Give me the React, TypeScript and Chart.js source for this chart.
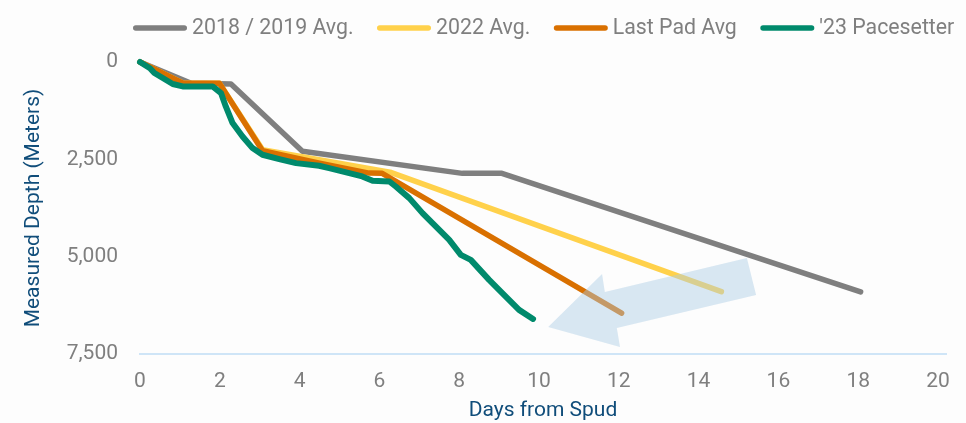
import React, { useEffect, useRef } from "react";
import { Chart, registerables } from "chart.js";

Chart.register(...registerables);

const seriesLabels = ["2018 / 2019 Avg.", "2022 Avg.", "Last Pad Avg", "'23 Pacesetter"];
const seriesColors = ["#7f7f7f", "#ffd14b", "#d97000", "#008a6c"];

const grayDays = [0, 1.28, 2.28, 4.07, 8.08, 9.07, 18.06];
const grayDepths = [0, 545, 566, 2290, 2860, 2860, 5905];

const yellowDays = [0, 1.07, 1.99, 3.07, 6.3, 14.57];
const yellowDepths = [0, 540, 545, 2250, 2840, 5900];

const orangeDays = [0, 1.07, 1.99, 3.07, 4.5, 5.74, 6.07, 12.07];
const orangeDepths = [0, 540, 545, 2280, 2600, 2853, 2860, 6450];

const greenDays = [0, 0.25, 0.36, 0.57, 0.82, 1.07, 1.82, 2.03, 2.15, 2.32, 2.57, 2.82, 3.07, 3.49, 3.91, 4.49, 4.74, 5.57, 5.83, 6.25, 6.41, 6.75, 7.08, 7.33, 7.75, 8.04, 8.29, 8.75, 9.08, 9.5, 9.85];
const greenDepths = [0, 160, 283, 412, 566, 627, 627, 797, 1141, 1568, 1912, 2211, 2383, 2494, 2597, 2666, 2725, 2940, 3051, 3069, 3198, 3496, 3882, 4139, 4568, 4954, 5082, 5596, 5938, 6367, 6600];

const seriesWidths = [5.5, 5.5, 5.5, 6];

const xTicks = [0, 2, 4, 6, 8, 10, 12, 14, 16, 18, 20];
const yTicks = [0, 2500, 5000, 7500];

// decorative arrow annotation (data coordinates)
const arrowDays = [15.21, 11.65, 11.58, 10.23, 12.03, 11.95, 15.44];
const arrowDepths = [5035, 5908, 5446, 6807, 7321, 6833, 5985];

const FONT = "Roboto, 'Noto Sans', sans-serif";

const toPoints = (xs: number[], ys: number[]) => xs.map((x, i) => ({ x, y: ys[i] }));

const bgPlugin = {
  id: "bg",
  beforeDraw(chart: any) {
    const ctx = chart.ctx;
    ctx.save();
    ctx.fillStyle = "#fdfdfd";
    ctx.fillRect(0, 0, chart.width, chart.height);
    ctx.restore();
  },
};

const arrowPlugin = {
  id: "arrow",
  afterDatasetsDraw(chart: any) {
    const ctx = chart.ctx;
    const xs = chart.scales.x;
    const ys = chart.scales.y;
    ctx.save();
    ctx.beginPath();
    arrowDays.forEach((d, i) => {
      const px = xs.getPixelForValue(d);
      const py = ys.getPixelForValue(arrowDepths[i]);
      if (i === 0) ctx.moveTo(px, py);
      else ctx.lineTo(px, py);
    });
    ctx.closePath();
    ctx.fillStyle = "rgba(170, 205, 228, 0.45)";
    ctx.fill();
    ctx.restore();
  },
};

const legendPlugin = {
  id: "customLegend",
  afterDraw(chart: any) {
    const ctx = chart.ctx;
    ctx.save();
    ctx.font = `21.3px ${FONT}`;
    ctx.textBaseline = "middle";
    ctx.textAlign = "left";
    let x = 133;
    const y = 28;
    chart.data.datasets.forEach((ds: any) => {
      ctx.strokeStyle = ds.borderColor;
      ctx.lineWidth = 5.5;
      ctx.lineCap = "round";
      ctx.beginPath();
      ctx.moveTo(x + 2.75, y);
      ctx.lineTo(x + 51.25, y);
      ctx.stroke();
      ctx.fillStyle = "#7f7f7f";
      ctx.fillText(ds.label, x + 59, y + 1);
      const w = ctx.measureText(ds.label).width;
      x = x + 59 + w + 23.5;
    });
    ctx.restore();
  },
};

export default function App() {
  const ref = useRef<HTMLCanvasElement | null>(null);

  useEffect(() => {
    if (!ref.current) return;
    const mk = (i: number, xs: number[], ys: number[], order: number) => ({
      label: seriesLabels[i],
      data: toPoints(xs, ys),
      borderColor: seriesColors[i],
      backgroundColor: seriesColors[i],
      borderWidth: seriesWidths[i],
      borderCapStyle: "round",
      borderJoinStyle: "round",
      pointRadius: 0,
      tension: 0,
      fill: false,
      clip: false,
      order,
    });
    const chart = new Chart(ref.current, {
      type: "line",
      data: {
        datasets: [
          mk(0, grayDays, grayDepths, 3),
          mk(1, yellowDays, yellowDepths, 2),
          mk(2, orangeDays, orangeDepths, 1),
          mk(3, greenDays, greenDepths, 0),
        ] as any,
      },
      plugins: [bgPlugin, arrowPlugin, legendPlugin],
      options: {
        animation: false,
        responsive: true,
        maintainAspectRatio: false,
        layout: { padding: { top: 62, right: 20, left: 0, bottom: 0 } },
        plugins: {
          legend: { display: false },
          tooltip: { enabled: false },
        },
        scales: {
          x: {
            type: "linear",
            min: 0,
            max: 20.2,
            afterBuildTicks: (axis: any) => {
              axis.ticks = xTicks.map((v) => ({ value: v }));
            },
            afterFit: (axis: any) => {
              axis.height = 69;
            },
            grid: { display: false, drawTicks: false },
            border: { display: true, color: "#cfe5f7", width: 2 },
            ticks: {
              color: "#7f7f7f",
              font: { family: FONT, size: 21 },
              padding: 15,
              maxRotation: 0,
            },
            title: {
              display: true,
              text: "Days from Spud",
              color: "#104d7a",
              font: { family: FONT, size: 21 },
              padding: { top: 0, bottom: 0 },
            },
          },
          y: {
            type: "linear",
            reverse: true,
            min: 0,
            max: 7500,
            afterBuildTicks: (axis: any) => {
              axis.ticks = yTicks.map((v) => ({ value: v }));
            },
            afterFit: (axis: any) => {
              axis.width = 140;
            },
            grid: { display: false, drawTicks: false },
            border: { display: false },
            ticks: {
              color: "#7f7f7f",
              font: { family: FONT, size: 21 },
              padding: 22,
              callback: (v: any) => Number(v).toLocaleString("en-US"),
            },
            title: {
              display: true,
              text: "Measured Depth (Meters)",
              color: "#104d7a",
              font: { family: FONT, size: 21 },
              padding: { top: 21, bottom: 0 },
            },
          },
        },
      } as any,
    });
    return () => chart.destroy();
  }, []);

  return (
    <div style={{ position: "absolute", left: 0, top: 0, width: 966, height: 423 }}>
      <canvas ref={ref} />
    </div>
  );
}
